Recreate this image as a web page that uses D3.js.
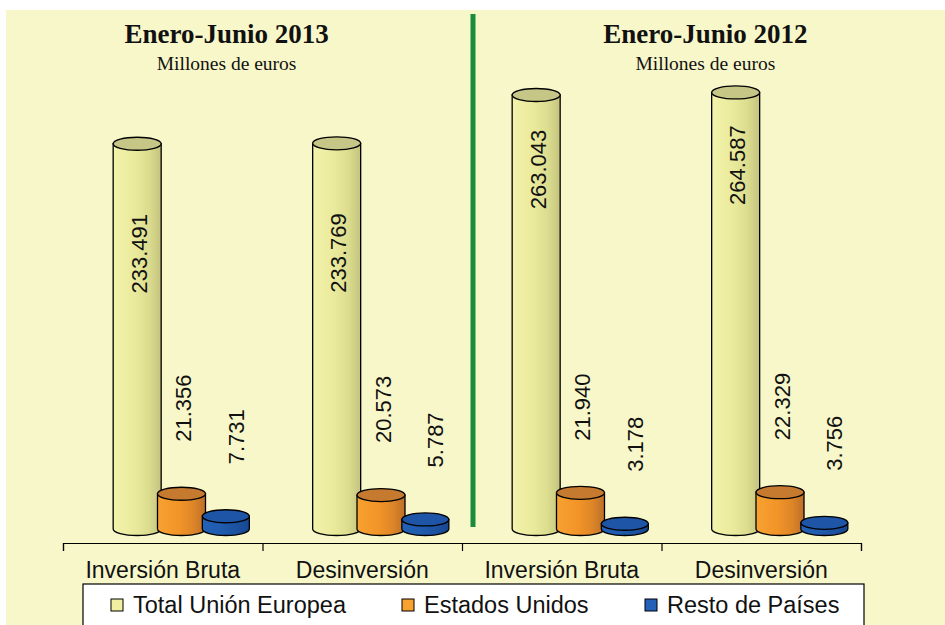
<!DOCTYPE html>
<html>
<head>
<meta charset="utf-8">
<script src="https://cdn.jsdelivr.net/npm/d3@7"></script>
<style>
    body { margin: 0; background: #fff; }
</style>
</head>
<body>
<div id="chart"></div>
<script>
    // data (millones de euros)
    const periods = ["Enero-Junio 2013", "Enero-Junio 2012"];
    const categories = ["Inversión Bruta", "Desinversión", "Inversión Bruta", "Desinversión"];
    const seriesNames = ["Total Unión Europea", "Estados Unidos", "Resto de Países"];
    const totalUE = [233491, 233769, 263043, 264587];
    const estadosUnidos = [21356, 20573, 21940, 22329];
    const restoPaises = [7731, 5787, 3178, 3756];

    const width = 945, height = 625;
    const baseline = 529;
    const sans = "Liberation Sans, Arial, sans-serif";
    const serif = "Liberation Serif, Times New Roman, serif";

    const es = d3.formatLocale({ decimal: ",", thousands: ".", grouping: [3], currency: ["", " €"] });
    const fmt = es.format(",d");

    const seriesStyle = [
        { stops: ["#f3f3ab", "#e9ea9c", "#dcdc8e", "#c3c37f"], top: "#c6c686", w: 48, ldx: 2 },
        { stops: ["#f7a231", "#f29428", "#dd8528", "#bd7029"], top: "#c57a30", w: 48, ldx: 2 },
        { stops: ["#2362b8", "#1f5aad", "#1b519f", "#174690"], top: "#1f55a6", w: 47, ldx: 10 }
    ];

    const svg = d3.select("#chart").append("svg")
        .attr("width", width)
        .attr("height", height)
        .style("font-family", sans);

    // panel background
    svg.append("rect")
        .attr("x", 6).attr("y", 10)
        .attr("width", width - 6).attr("height", height - 10)
        .attr("fill", "#f8f7c9");

    const defs = svg.append("defs");
    seriesStyle.forEach((s, i) => {
        const grad = defs.append("linearGradient")
            .attr("id", "cyl" + i)
            .attr("x1", "0%").attr("x2", "100%")
            .attr("y1", "0%").attr("y2", "0%");
        [0, 0.45, 0.75, 1].forEach((o, k) => {
            grad.append("stop").attr("offset", o).attr("stop-color", s.stops[k]);
        });
    });

    const groupX = d3.scaleBand()
        .domain(d3.range(categories.length))
        .range([63, 861]);

    const seriesX = d3.scaleBand()
        .domain(d3.range(seriesNames.length))
        .range([52, 185]);

    const y = d3.scaleLinear()
        .domain([0, 300000])
        .range([baseline, baseline - 495]);

    // axis with boundary ticks
    const tickScale = d3.scaleLinear().domain([0, 4]).range([63, 861]);
    svg.append("g")
        .attr("transform", `translate(0,543)`)
        .call(d3.axisBottom(tickScale).tickValues([0, 1, 2, 3, 4]).tickSize(8).tickSizeOuter(8).tickFormat(""))
        .call(g => g.selectAll("path, line").attr("stroke", "#000").attr("stroke-width", 1.2));

    // category labels
    svg.append("g")
        .attr("transform", `translate(0,543)`)
        .call(d3.axisBottom(groupX).tickSize(0).tickPadding(19).tickFormat(i => categories[i]))
        .call(g => g.select(".domain").remove())
        .call(g => g.selectAll("text")
            .attr("font-size", "23px")
            .attr("fill", "#111")
            .style("font-family", sans));

    // separator between periods
    svg.append("line")
        .attr("x1", 473).attr("x2", 473)
        .attr("y1", 14).attr("y2", 527)
        .attr("stroke", "#1a8c3e")
        .attr("stroke-width", 5);

    // titles
    const titleX = [groupX(0) + groupX.bandwidth() * 0.82, groupX(2) + groupX.bandwidth() * 1.22];
    periods.forEach((p, i) => {
        svg.append("text")
            .attr("x", titleX[i]).attr("y", 43)
            .attr("text-anchor", "middle")
            .style("font-family", serif)
            .attr("font-weight", "bold")
            .attr("font-size", "27px")
            .attr("fill", "#111")
            .text(p);
        svg.append("text")
            .attr("x", titleX[i]).attr("y", 70)
            .attr("text-anchor", "middle")
            .style("font-family", serif)
            .attr("font-size", "19.5px")
            .attr("fill", "#111")
            .text("Millones de euros");
    });

    // cylinders
    const allSeries = [totalUE, estadosUnidos, restoPaises];
    const ry = 6.5;
    const bars = [];
    allSeries.forEach((vals, s) => {
        vals.forEach((v, i) => {
            bars.push({ s, i, v, cx: groupX(i) + seriesX(s) + seriesX.bandwidth() / 2 });
        });
    });

    const barG = svg.append("g");
    // series drawn left to right in each group so later ones overlap
    d3.range(categories.length).forEach(i => {
        bars.filter(d => d.i === i).forEach(d => {
            const st = seriesStyle[d.s];
            const x0 = d.cx - st.w / 2, x1 = d.cx + st.w / 2;
            const yt = y(d.v);
            const rx = st.w / 2;
            barG.append("path")
                .attr("d", `M${x0},${yt} L${x0},${baseline} A${rx},${ry} 0 0 0 ${x1},${baseline} L${x1},${yt} Z`)
                .attr("fill", `url(#cyl${d.s})`)
                .attr("stroke", "#000")
                .attr("stroke-width", 1.3);
            barG.append("ellipse")
                .attr("cx", d.cx).attr("cy", yt)
                .attr("rx", rx).attr("ry", ry)
                .attr("fill", st.top)
                .attr("stroke", "#000")
                .attr("stroke-width", 1.3);
        });
    });

    // value labels
    svg.append("g").selectAll("text")
        .data(bars)
        .join("text")
        .attr("transform", d => {
            const st = seriesStyle[d.s];
            const ly = d.s === 0
                ? y(d.v) + 110 - (d.v - 233500) / 1000 * 1.2
                : y(d.v) - 52;
            return `translate(${d.cx + st.ldx},${ly}) rotate(-90)`;
        })
        .attr("text-anchor", d => d.s === 0 ? "middle" : "start")
        .attr("dy", "0.35em")
        .attr("font-size", "22px")
        .attr("fill", "#111")
        .text(d => fmt(d.v));

    // legend
    const legend = svg.append("g");
    legend.append("rect")
        .attr("x", 83).attr("y", 584)
        .attr("width", 781).attr("height", 60)
        .attr("fill", "#fff")
        .attr("stroke", "#000")
        .attr("stroke-width", 1.2);
    const legendX = [111, 402, 645];
    seriesNames.forEach((name, i) => {
        legend.append("rect")
            .attr("x", legendX[i]).attr("y", 599)
            .attr("width", 12).attr("height", 12)
            .attr("fill", i === 0 ? "#f0f0a0" : seriesStyle[i].stops[0])
            .attr("stroke", "#000")
            .attr("stroke-width", 1);
        legend.append("text")
            .attr("x", legendX[i] + 22).attr("y", 613)
            .attr("font-size", "23.5px")
            .attr("fill", "#111")
            .text(name);
    });
</script>
</body>
</html>
